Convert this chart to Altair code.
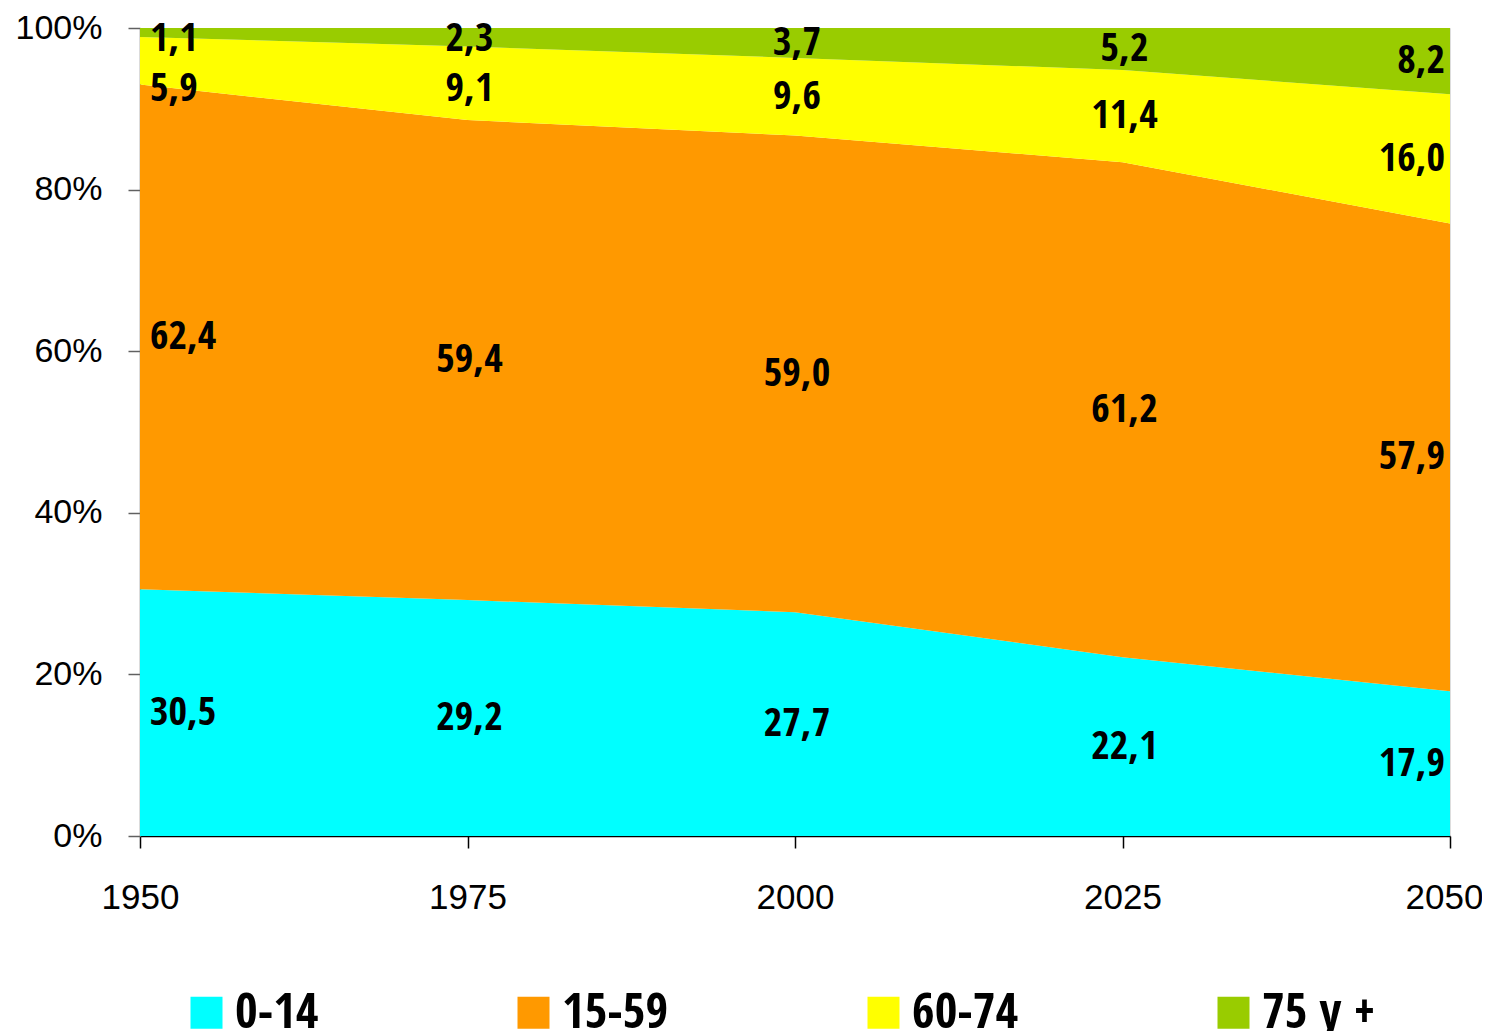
import altair as alt
import pandas as pd

years = [1950, 1975, 2000, 2025, 2050]
groups = ["0-14", "15-59", "60-74", "75 y +"]
v_0_14 = [30.5, 29.2, 27.7, 22.1, 17.9]
v_15_59 = [62.4, 59.4, 59.0, 61.2, 57.9]
v_60_74 = [5.9, 9.1, 9.6, 11.4, 16.0]
v_75 = [1.1, 2.3, 3.7, 5.2, 8.2]
colors = ["#00FFFF", "#FF9900", "#FFFF00", "#99CC00"]
x_ticks = [1950, 1975, 2000, 2025, 2050]
y_ticks = [0, 0.2, 0.4, 0.6, 0.8, 1.0]

FONT = "Open Sans Condensed, Noto Sans Condensed, Roboto Condensed, Liberation Sans"
AXIS_FONT = "Liberation Sans, Arial, sans-serif"

series = [v_0_14, v_15_59, v_60_74, v_75]
rows = []
for gi, (g, vals) in enumerate(zip(groups, series)):
    for yi, yr in enumerate(years):
        rows.append({"year": yr, "group": g, "order": gi, "value": vals[yi]})
df = pd.DataFrame(rows)

# label positions: centre of each band (normalised), kept inside the plot and apart
lab_rows = []
for yi, yr in enumerate(years):
    total = sum(s[yi] for s in series)
    cum = 0.0
    mids = []
    for s in series:
        mids.append((cum + s[yi] / 2) / total)
        cum += s[yi]
    limit = 0.986
    centers = [0] * len(series)
    for gi in reversed(range(len(series))):
        c = min(mids[gi], limit)
        centers[gi] = c
        limit = c - 0.061
    pos = "first" if yi == 0 else ("last" if yi == len(years) - 1 else "mid")
    for gi, g in enumerate(groups):
        lab_rows.append({
            "year": yr,
            "group": g,
            "ypos": centers[gi],
            "label": f"{series[gi][yi]:.1f}".replace(".", ","),
            "pos": pos,
        })
ldf = pd.DataFrame(lab_rows)

x_enc = alt.X(
    "year:Q",
    scale=alt.Scale(domain=[1950, 2050], nice=False, zero=False),
    axis=alt.Axis(
        values=x_ticks, format="d", title=None, grid=False, labelFlush=False,
        labelFont=AXIS_FONT, labelFontSize=35, labelColor="black", labelPadding=32,
        labelOffset={"condition": {"test": "datum.value == 2050", "value": -6}, "value": 0},
        tickSize=12, tickColor="black", tickWidth=1.5,
        domainColor="black", domainWidth=1.5,
    ),
)

area = alt.Chart(df).mark_area(interpolate="linear").encode(
    x=x_enc,
    y=alt.Y(
        "value:Q", stack="normalize",
        scale=alt.Scale(domain=[0, 1], nice=False),
        axis=alt.Axis(
            values=y_ticks, format=".0%", title=None, grid=False,
            labelFont=AXIS_FONT, labelFontSize=34, labelColor="black", labelPadding=26,
            tickSize=12, tickColor="#606060", tickWidth=1.5,
            domainColor="#707070", domainWidth=1.5,
        ),
    ),
    color=alt.Color(
        "group:N",
        scale=alt.Scale(domain=groups, range=colors),
        legend=alt.Legend(
            orient="none", legendX=42, legendY=960, direction="horizontal",
            columns=4, columnPadding=190, symbolType="square", symbolSize=1024,
            symbolStrokeWidth=0, labelFont=FONT, labelFontSize=49,
            labelFontWeight="bold", labelColor="black", labelOffset=4,
            title=None, padding=0,
        ),
    ),
    order=alt.Order("order:Q"),
)


def text_layer(pos, align, dx):
    return (
        alt.Chart(ldf)
        .transform_filter(alt.datum.pos == pos)
        .mark_text(align=align, baseline="middle", dx=dx, font=FONT,
                   fontSize=40, fontWeight="bold", color="black")
        .encode(
            x=alt.X("year:Q"),
            y=alt.Y("ypos:Q"),
            text="label:N",
        )
    )


chart = (
    alt.layer(
        area,
        text_layer("first", "left", 10),
        text_layer("mid", "center", 2),
        text_layer("last", "right", -5),
    )
    .properties(
        width=1310,
        height=808,
        autosize=alt.AutoSizeParams(type="none"),
        padding={"left": 132, "top": 20, "right": 32, "bottom": 195},
    )
    .configure_view(stroke="#808080", strokeWidth=2)
    .configure(background="white")
)

chart.save("out.html", embed_options={"renderer": "svg", "actions": False})
